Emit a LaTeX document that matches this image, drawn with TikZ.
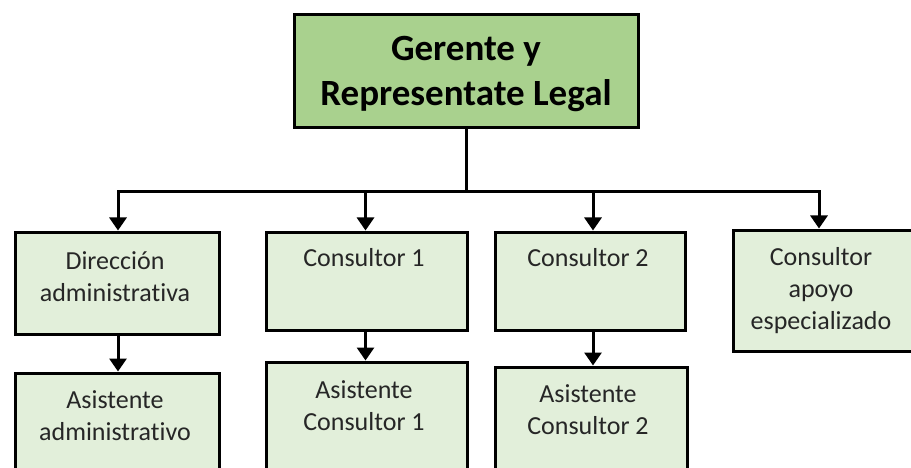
\documentclass[tikz,border=0pt]{standalone}
\usepackage{fontspec}
\setmainfont{Carlito}[Ligatures={NoCommon}]
\usetikzlibrary{arrows.meta}
\definecolor{topfill}{HTML}{A9D18E}
\definecolor{boxfill}{HTML}{E2EFDA}
\definecolor{txt}{HTML}{262626}
\begin{document}
\begin{tikzpicture}[x=1pt,y=-1pt,
  box/.style={draw=black, line width=3pt, fill=boxfill, anchor=north west, inner sep=0pt, minimum width=#1},
  box/.default=204pt,
  topbox/.style={draw=black, line width=3pt, fill=topfill, inner sep=0pt, minimum width=344pt, minimum height=113pt},
  ttl/.style={align=center, font=\fontsize{37}{45}\selectfont\bfseries, inner sep=0pt},
  lbl/.style={anchor=north, align=center, font=\fontsize{26}{32}\selectfont, text=txt, inner sep=0pt},
  conn/.style={line width=3pt, draw=black},
  arr/.style={conn, -{Triangle[length=13pt,width=17pt]}}]
\clip (0,0) rectangle (911,468);
\useasboundingbox (0,0) rectangle (911,468);

% top box
\node[topbox] (top) at (466,71.5) {};
\node[ttl] (topT) at (466,74.5) {Gerente y\\Representate Legal};

% first row boxes
\node[box=204pt, minimum height=102pt] (dir) at (13.5,230.5) {};
\node[box=201pt, minimum height=98pt]  (c1)  at (264.5,230.5) {};
\node[box=190pt, minimum height=98pt]  (c2)  at (493.5,230.5) {};
\node[box=190pt, minimum height=121pt] (ap)  at (731.5,228.5) {};

% second row boxes
\node[box=204pt, minimum height=120pt] (adm) at (13.5,371.5) {};
\node[box=201pt, minimum height=130pt] (ac1) at (264.5,360.5) {};
\node[box=192pt, minimum height=125pt] (ac2) at (493.5,365.5) {};

% labels
\node[lbl] (dirT) at (115,249) {\rule{0pt}{20pt}Dirección\\administrativa};
\node[lbl] (c1T)  at (364,246) {\rule{0pt}{20pt}Consultor 1};
\node[lbl] (c2T)  at (588,246) {\rule{0pt}{20pt}Consultor 2};
\node[lbl] (apT)  at (821,245) {\rule{0pt}{20pt}Consultor\\apoyo\\especializado};
\node[lbl] (admT) at (115,388) {\rule{0pt}{20pt}Asistente\\administrativo};
\node[lbl] (ac1T) at (364,378) {\rule{0pt}{20pt}Asistente\\Consultor 1};
\node[lbl] (ac2T) at (588,382) {\rule{0pt}{20pt}Asistente\\Consultor 2};

% connectors
\coordinate (bar) at (top.south |- 0,192);
\draw[conn] (top.south) -- (bar);
\draw[arr] (bar) -| ([xshift=1pt]dir.north);
\draw[arr] (bar) -| ([xshift=-1pt]c1.north);
\draw[arr] (bar) -| ([xshift=3pt]c2.north);
\draw[arr] (bar) -| ([xshift=-9pt]ap.north);
\draw[arr] ([xshift=1pt]dir.south) -- ([xshift=1pt]dir.south |- adm.north);
\draw[arr] ([xshift=-1pt]c1.south) -- ([xshift=-1pt]c1.south |- ac1.north);
\draw[arr] ([xshift=3pt]c2.south) -- ([xshift=3pt]c2.south |- ac2.north);
\end{tikzpicture}
\end{document}
